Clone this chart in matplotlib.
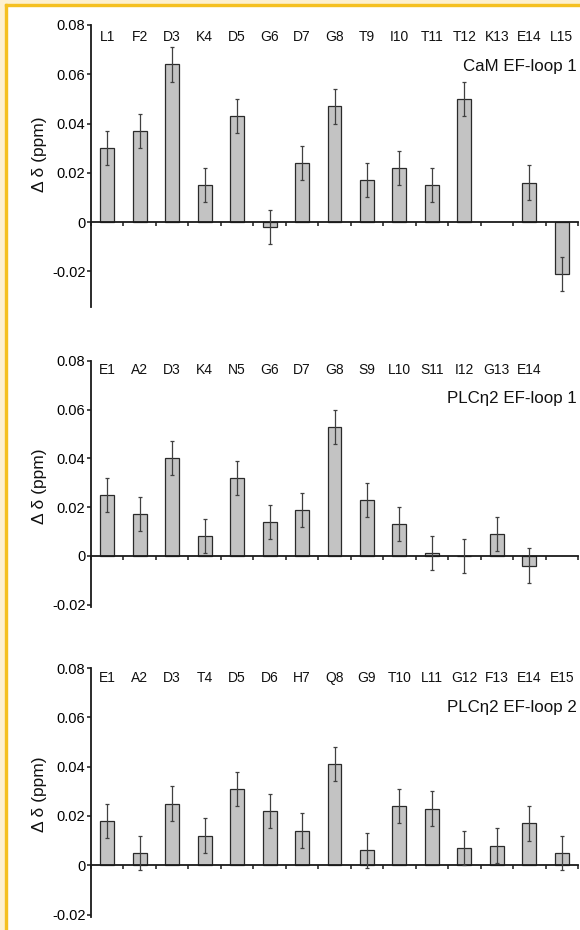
import numpy as np
import matplotlib
matplotlib.use("Agg")
import matplotlib.pyplot as plt
from matplotlib.patches import Rectangle

plt.rcParams['font.family'] = ['Liberation Sans', 'DejaVu Sans']

# ---- data ----
labels1 = ["L1", "F2", "D3", "K4", "D5", "G6", "D7", "G8", "T9", "I10", "T11", "T12", "K13", "E14", "L15"]
values1 = [0.030, 0.037, 0.064, 0.015, 0.043, -0.002, 0.024, 0.047, 0.017, 0.022, 0.015, 0.050, np.nan, 0.016, -0.021]
errors1 = [0.007, 0.007, 0.007, 0.007, 0.007, 0.007, 0.007, 0.007, 0.007, 0.007, 0.007, 0.007, np.nan, 0.007, 0.007]
title1 = "CaM EF-loop 1"

labels2 = ["E1", "A2", "D3", "K4", "N5", "G6", "D7", "G8", "S9", "L10", "S11", "I12", "G13", "E14"]
values2 = [0.025, 0.017, 0.040, 0.008, 0.032, 0.014, 0.019, 0.053, 0.023, 0.013, 0.001, 0.000, 0.009, -0.004]
errors2 = [0.007, 0.007, 0.007, 0.007, 0.007, 0.007, 0.007, 0.007, 0.007, 0.007, 0.007, 0.007, 0.007, 0.0073]
title2 = "PLCη2 EF-loop 1"

labels3 = ["E1", "A2", "D3", "T4", "D5", "D6", "H7", "Q8", "G9", "T10", "L11", "G12", "F13", "E14", "E15"]
values3 = [0.018, 0.005, 0.025, 0.012, 0.031, 0.022, 0.014, 0.041, 0.006, 0.024, 0.023, 0.007, 0.008, 0.017, 0.005]
errors3 = [0.007, 0.007, 0.007, 0.007, 0.007, 0.007, 0.007, 0.007, 0.007, 0.007, 0.007, 0.007, 0.007, 0.007, 0.007]
title3 = "PLCη2 EF-loop 2"

yticks = [-0.02, 0.0, 0.02, 0.04, 0.06, 0.08]
ytick_labels = ["-0.02", "0", "0.02", "0.04", "0.06", "0.08"]
ylabel = "Δ δ (ppm)"
n_slots = 15

W, H = 580, 930
fig = plt.figure(figsize=(W / 100, H / 100), dpi=100)

# border (left + top)
fig.patches.append(Rectangle((0, 0), 6 / W, 1, transform=fig.transFigure, color="#fdf0cf", zorder=0))
fig.patches.append(Rectangle((0, 1 - 4 / H), 1, 4 / H, transform=fig.transFigure, color="#fdf0cf", zorder=0))
fig.patches.append(Rectangle((5 / W, 0), 2.2 / W, 1 - 4 / H, transform=fig.transFigure, color="#f5c020", zorder=1))
fig.patches.append(Rectangle((5 / W, 1 - 6 / H), 1 - 5 / W, 2 / H, transform=fig.transFigure, color="#f5c020", zorder=1))

left_px, right_px = 91, 578
panels = [
    # (labels, values, errors, title, top_px, bottom_px, ybottom, label_y_data, title_y, ylabel_y)
    (labels1, values1, errors1, title1, 25, 307, -0.0345, 0.0752, 0.0630, 0.54),
    (labels2, values2, errors2, title2, 361, 607, -0.021, 0.0762, 0.0648, 0.49),
    (labels3, values3, errors3, title3, 668, 917, -0.021, 0.0759, 0.0638, 0.494),
]

for labs, vals, errs, ttl, top_px, bot_px, ybot, lab_y, ttl_y, ylab_y in panels:
    ax = fig.add_axes([left_px / W, 1 - bot_px / H, (right_px - left_px) / W, (bot_px - top_px) / H])
    x = np.arange(len(vals))
    ax.bar(x, vals, width=0.43, color="#c3c3c3", edgecolor="#2a2a2a", linewidth=0.9, zorder=2)
    ax.errorbar(x, vals, yerr=errs, fmt="none", ecolor="#404040", elinewidth=0.9,
                capsize=1.4, capthick=0.9, zorder=3)
    ax.set_xlim(-0.5, n_slots - 0.5)
    ax.set_ylim(ybot, 0.08)
    for s in ["top", "right"]:
        ax.spines[s].set_visible(False)
    ax.spines["bottom"].set_position(("data", 0))
    ax.spines["left"].set_linewidth(1.3)
    ax.spines["bottom"].set_linewidth(1.3)
    ax.spines["left"].set_color("#1a1a1a")
    ax.spines["bottom"].set_color("#1a1a1a")
    ax.set_xticks(np.arange(n_slots + 1) - 0.5)
    ax.set_xticklabels([])
    ax.tick_params(axis="x", direction="out", length=3, width=1.1, color="#1a1a1a")
    ax.set_yticks(yticks)
    ax.set_yticklabels(ytick_labels)
    ax.tick_params(axis="y", direction="out", length=3, width=1.1, color="#1a1a1a",
                   labelsize=10.5, pad=1)
    for xi, lb in enumerate(labs):
        ax.text(xi, lab_y, lb, ha="center", va="center", fontsize=10, color="#111111")
    ax.text(14.45, ttl_y, ttl, ha="right", va="center", fontsize=12.2, color="#111111")
    ax.text(-0.105, ylab_y, ylabel, transform=ax.transAxes, rotation=90,
            ha="center", va="center", fontsize=12.5, color="#111111")

fig.savefig("out.png", dpi=100)
